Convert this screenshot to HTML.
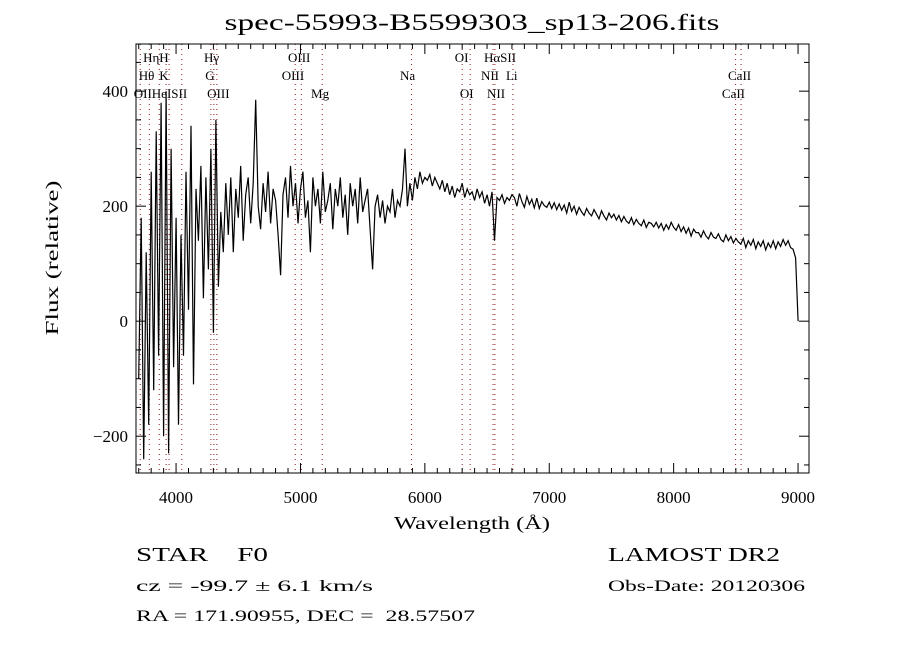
<!DOCTYPE html>
<html><head><meta charset="utf-8"><style>
html,body{margin:0;padding:0;background:#fff;}
svg{display:block;font-family:"Liberation Serif",serif;}
text{white-space:pre;}
</style></head><body>
<svg id="chart" width="900" height="650" viewBox="0 0 900 650">
<rect width="900" height="650" fill="#fff"/>
<text x="472" y="30" font-size="23" text-anchor="middle" textLength="495" lengthAdjust="spacingAndGlyphs">spec-55993-B5599303_sp13-206.fits</text>
<g id="lines"></g>
<g id="labels" font-size="13"></g>
<path id="spec" fill="none" stroke="#000" stroke-width="1.2"/>
<rect x="136" y="44" width="673" height="429" fill="none" stroke="#000" stroke-width="1"/>
<g id="ticks" stroke="#000" stroke-width="1"></g>
<g id="ticklabels" font-size="17"></g>
<text x="472" y="529" font-size="18" text-anchor="middle" textLength="156" lengthAdjust="spacingAndGlyphs">Wavelength (Å)</text>
<text transform="translate(58,258) rotate(-90)" font-size="18" text-anchor="middle" textLength="155" lengthAdjust="spacingAndGlyphs">Flux (relative)</text>
<text x="136" y="561" font-size="20" textLength="132" lengthAdjust="spacingAndGlyphs">STAR    F0</text>
<text x="608" y="561" font-size="20" textLength="172" lengthAdjust="spacingAndGlyphs">LAMOST DR2</text>
<text x="136" y="591" font-size="16" textLength="237" lengthAdjust="spacingAndGlyphs">cz = -99.7 ± 6.1 km/s</text>
<text x="608" y="591" font-size="16" textLength="197" lengthAdjust="spacingAndGlyphs">Obs-Date: 20120306</text>
<text x="136" y="621" font-size="16" textLength="339" lengthAdjust="spacingAndGlyphs">RA = 171.90955, DEC =  28.57507</text>
</svg>
<script>
const waveStart = 3700;
const waveStep = 20;
const flux = [
-100,180,-240,120,-180,260,-120,330,-60,380,-200,400,-230,300,-80,180,-180,150,-60,260,20,340,-110,230,140,270,40,250,90,300,-20,350,60,190,120,240,
150,250,120,230,180,270,140,220,250,170,
240,385,200,160,240,190,260,170,230,210,
150,80,220,250,180,270,200,240,170,230,
260,180,210,120,250,200,230,170,260,190,
210,240,160,230,200,250,180,220,150,240,
200,230,170,250,190,210,230,160,90,200,
220,180,210,170,200,190,230,180,210,200,
230,300,200,240,210,250,230,260,240,250,
245,255,235,250,240,230,245,225,240,220,235,215,230,225,240,215,230,220,225,210,
230,215,225,205,220,200,225,140,215,210,220,205,215,210,220,
215,200,222,208,198,217,203,212,197,214,196,208,201,198,207,
196,206,194,204,193,202,188,207,191,200,186,198,190,184,196,188,183,194,186,178,192,183,176,188,180,
186,176,184,173,182,174,170,180,168,177,170,166,176,163,172,170,164,172,162,170,158,168,160,172,163,
158,168,156,164,153,162,148,160,154,154,146,157,148,143,154,146,144,152,142,138,150,140,147,136,144,
138,134,144,128,140,132,142,126,138,130,140,124,136,128,140,126,138,130,142,132,140,128,125,110,
0];
const xTickValues = [4000,5000,6000,7000,8000,9000];
const yTickValues = [-200,0,200,400];
const lineWaves = [3712,3785,3865,3920,3944,4046,4280,4304,4328,4958,5007,5175,5893,6300,6364,6548,6563,6708,8498,8542];
const lineLabelText = ["Hη","H","Hγ","OIII","OI","HαSII","Hθ","K","G","OIII","Na","NII","Li","OIIHeISII","OIII","Mg","OI","NII","CaII","CaII"];
const lineLabelWave = [3735,3865,4225,4900,6240,6475,3700,3865,4235,4850,5800,6451,6652,3660,4250,5085,6282,6500,8437,8388];
const lineLabelRow = [0,0,0,0,0,0,1,1,1,1,1,1,1,2,2,2,2,2,1,2];

const X0=136,X1=809,Y0=473,Y1=44,WMIN=3678,WMAX=9088,FMIN=-264,FMAX=482;
const xs = w => X0 + (w-WMIN)/(WMAX-WMIN)*(X1-X0);
const ys = f => Y0 - (f-FMIN)/(FMAX-FMIN)*(Y0-Y1);
const NS="http://www.w3.org/2000/svg";
function mk(tag, parent){const e=document.createElementNS(NS,tag);parent.appendChild(e);return e;}

let d="";
flux.forEach((f,i)=>{const w=waveStart+i*waveStep;const y=Math.max(Y1,Math.min(Y0,ys(f)));d+=(i?"L":"M")+xs(w).toFixed(1)+","+y.toFixed(1);});
document.getElementById("spec").setAttribute("d",d);

const lg=document.getElementById("lines");
lineWaves.forEach(w=>{const l=mk("line",lg);


l.setAttribute("x1",xs(w));l.setAttribute("x2",xs(w));l.setAttribute("y1",Y1);l.setAttribute("y2",Y0);
l.setAttribute("stroke","#8b1a1a");l.setAttribute("stroke-width","1");l.setAttribute("stroke-dasharray","1,4");});

const lb=document.getElementById("labels");
lineLabelText.forEach((t,i)=>{const e=mk("text",lb);


e.setAttribute("x",xs(lineLabelWave[i]));e.setAttribute("y",62+lineLabelRow[i]*18);e.textContent=t;});

const tg=document.getElementById("ticks");
function tick(x1,y1,x2,y2){const l=mk("line",tg);


l.setAttribute("x1",x1);l.setAttribute("y1",y1);l.setAttribute("x2",x2);l.setAttribute("y2",y2);}
for(let w=3700;w<=9000;w+=100){const x=xs(w);const L=(w%1000===0)?10:5;tick(x,Y0,x,Y0-L);tick(x,Y1,x,Y1+L);}
for(let f=-250;f<=450;f+=50){const y=ys(f);const L=(f%200===0)?10:5;tick(X0,y,X0+L,y);tick(X1,y,X1-L,y);}

const tl=document.getElementById("ticklabels");
xTickValues.forEach(v=>{const e=mk("text",tl);


e.setAttribute("x",xs(v));e.setAttribute("y",503);e.setAttribute("text-anchor","middle");e.textContent=v;});
yTickValues.forEach(v=>{const e=mk("text",tl);


e.setAttribute("x",128);e.setAttribute("y",ys(v)+6);e.setAttribute("text-anchor","end");e.textContent=v<0?"−"+(-v):v;});
</script>
</body></html>
